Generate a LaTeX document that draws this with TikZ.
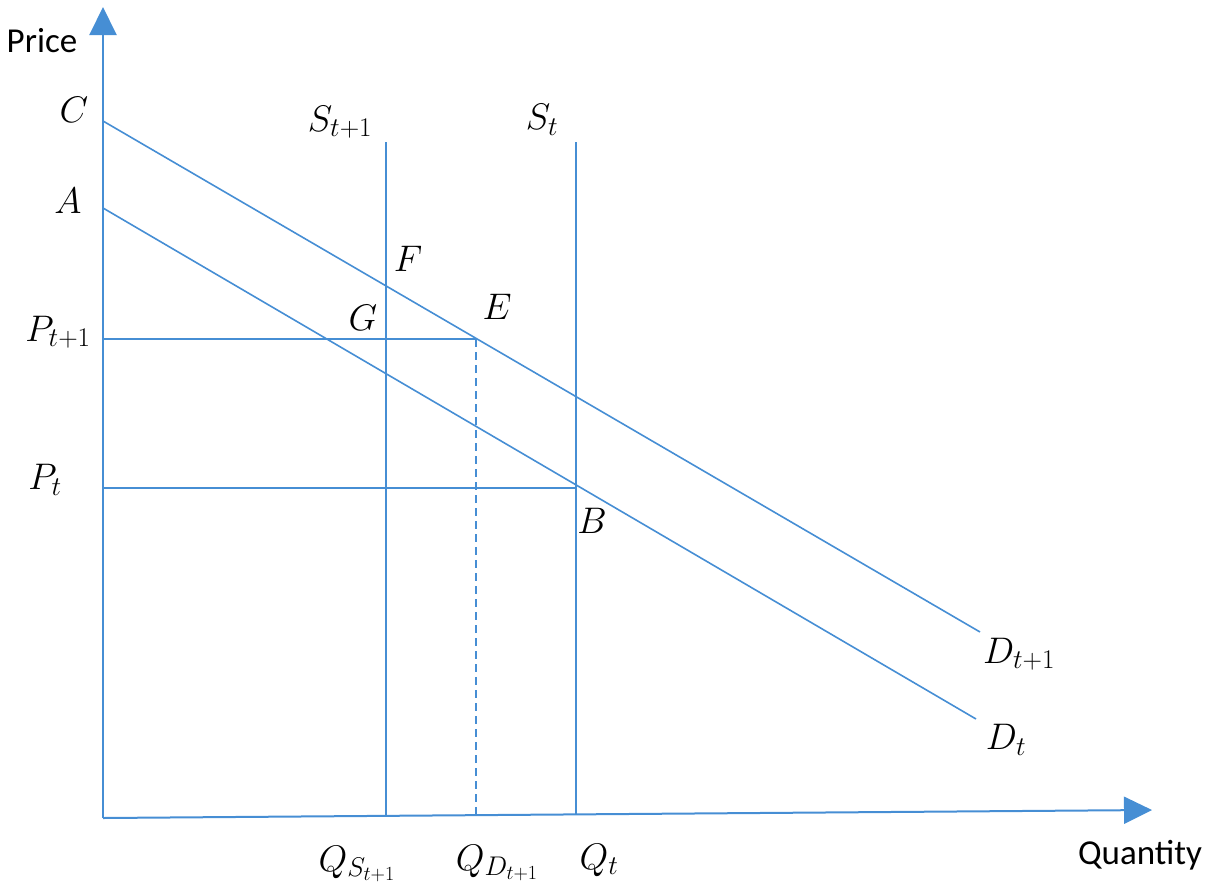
\RequirePackage{fix-cm}
\documentclass[tikz,border=0pt]{standalone}
\usepackage{fontspec}
\setsansfont{Carlito}
\usetikzlibrary{arrows.meta}
\DeclareMathSizes{37}{37}{27}{20}
\definecolor{lineblue}{RGB}{70,142,212}
\begin{document}
\begin{tikzpicture}[x=1pt,y=-1pt,
  curve/.style={draw=lineblue,line width=1.6pt},
  dashline/.style={curve,dash pattern=on 8pt off 5pt},
  axis/.style={draw=lineblue,line width=2pt,-{Triangle[length=28pt,width=27pt]}},
  lab/.style={font=\fontsize{37}{40}\selectfont,inner sep=0pt},
  word/.style={font=\sffamily\fontsize{35}{38}\selectfont,inner sep=0pt}]
\useasboundingbox (0,0) rectangle (1212,894);
% points
\coordinate (O) at (103,818);
\coordinate (Ytop) at (103,7);
\coordinate (Xend) at (1152,810);
\coordinate (C0) at (103,121);
\coordinate (Dt1end) at (980,632);
\coordinate (A0) at (103,208);
\coordinate (Dtend) at (976,719);
\coordinate (St1top) at (386,142);
\coordinate (St1bot) at (386,816);
\coordinate (Sttop) at (576,142);
\coordinate (Stbot) at (576,815);
\coordinate (Pt1) at (103,339);
\coordinate (Ept) at (476,339);
\coordinate (Ebot) at (476,815);
\coordinate (Pt) at (103,488);
\coordinate (Bpt) at (576,488);
% axes
\draw[axis] (O) -- (Ytop);
\draw[axis] (O) -- (Xend);
% demand curves
\draw[curve] (C0) -- (Dt1end);
\draw[curve] (A0) -- (Dtend);
% supply lines
\draw[curve] (St1top) -- (St1bot);
\draw[curve] (Sttop) -- (Stbot);
% price lines
\draw[curve] (Pt1) -- (Ept);
\draw[curve] (Pt) -- (Bpt);
\draw[dashline] (Ept) -- (Ebot);
% labels
\node[word] (price) at (42,41) {Price};
\node[word] (quantity) at (1140,855) {Quantity};
\node[lab] (lC) at (74,110) {$C$};
\node[lab] (lA) at (68,201) {$A$};
\node[lab] (lSt1) at (340,122) {$S_{t+1}$};
\node[lab] (lSt) at (542,120) {$S_t$};
\node[lab] (lF) at (408,259) {$F$};
\node[lab] (lG) at (363,318) {$G$};
\node[lab] (lE) at (497,307) {$E$};
\node[lab] (lPt1) at (58,332) {$P_{t+1}$};
\node[lab] (lPt) at (45,480) {$P_t$};
\node[lab] (lB) at (592,521) {$B$};
\node[lab] (lDt1) at (1019,654) {$D_{t+1}$};
\node[lab] (lDt) at (1006,740) {$D_t$};
\node[lab] (lQS) at (357,864) {$Q_{S_{t+1}}$};
\node[lab] (lQD) at (497,863) {$Q_{D_{t+1}}$};
\node[lab] (lQt) at (599,860) {$Q_t$};
\end{tikzpicture}
\end{document}
